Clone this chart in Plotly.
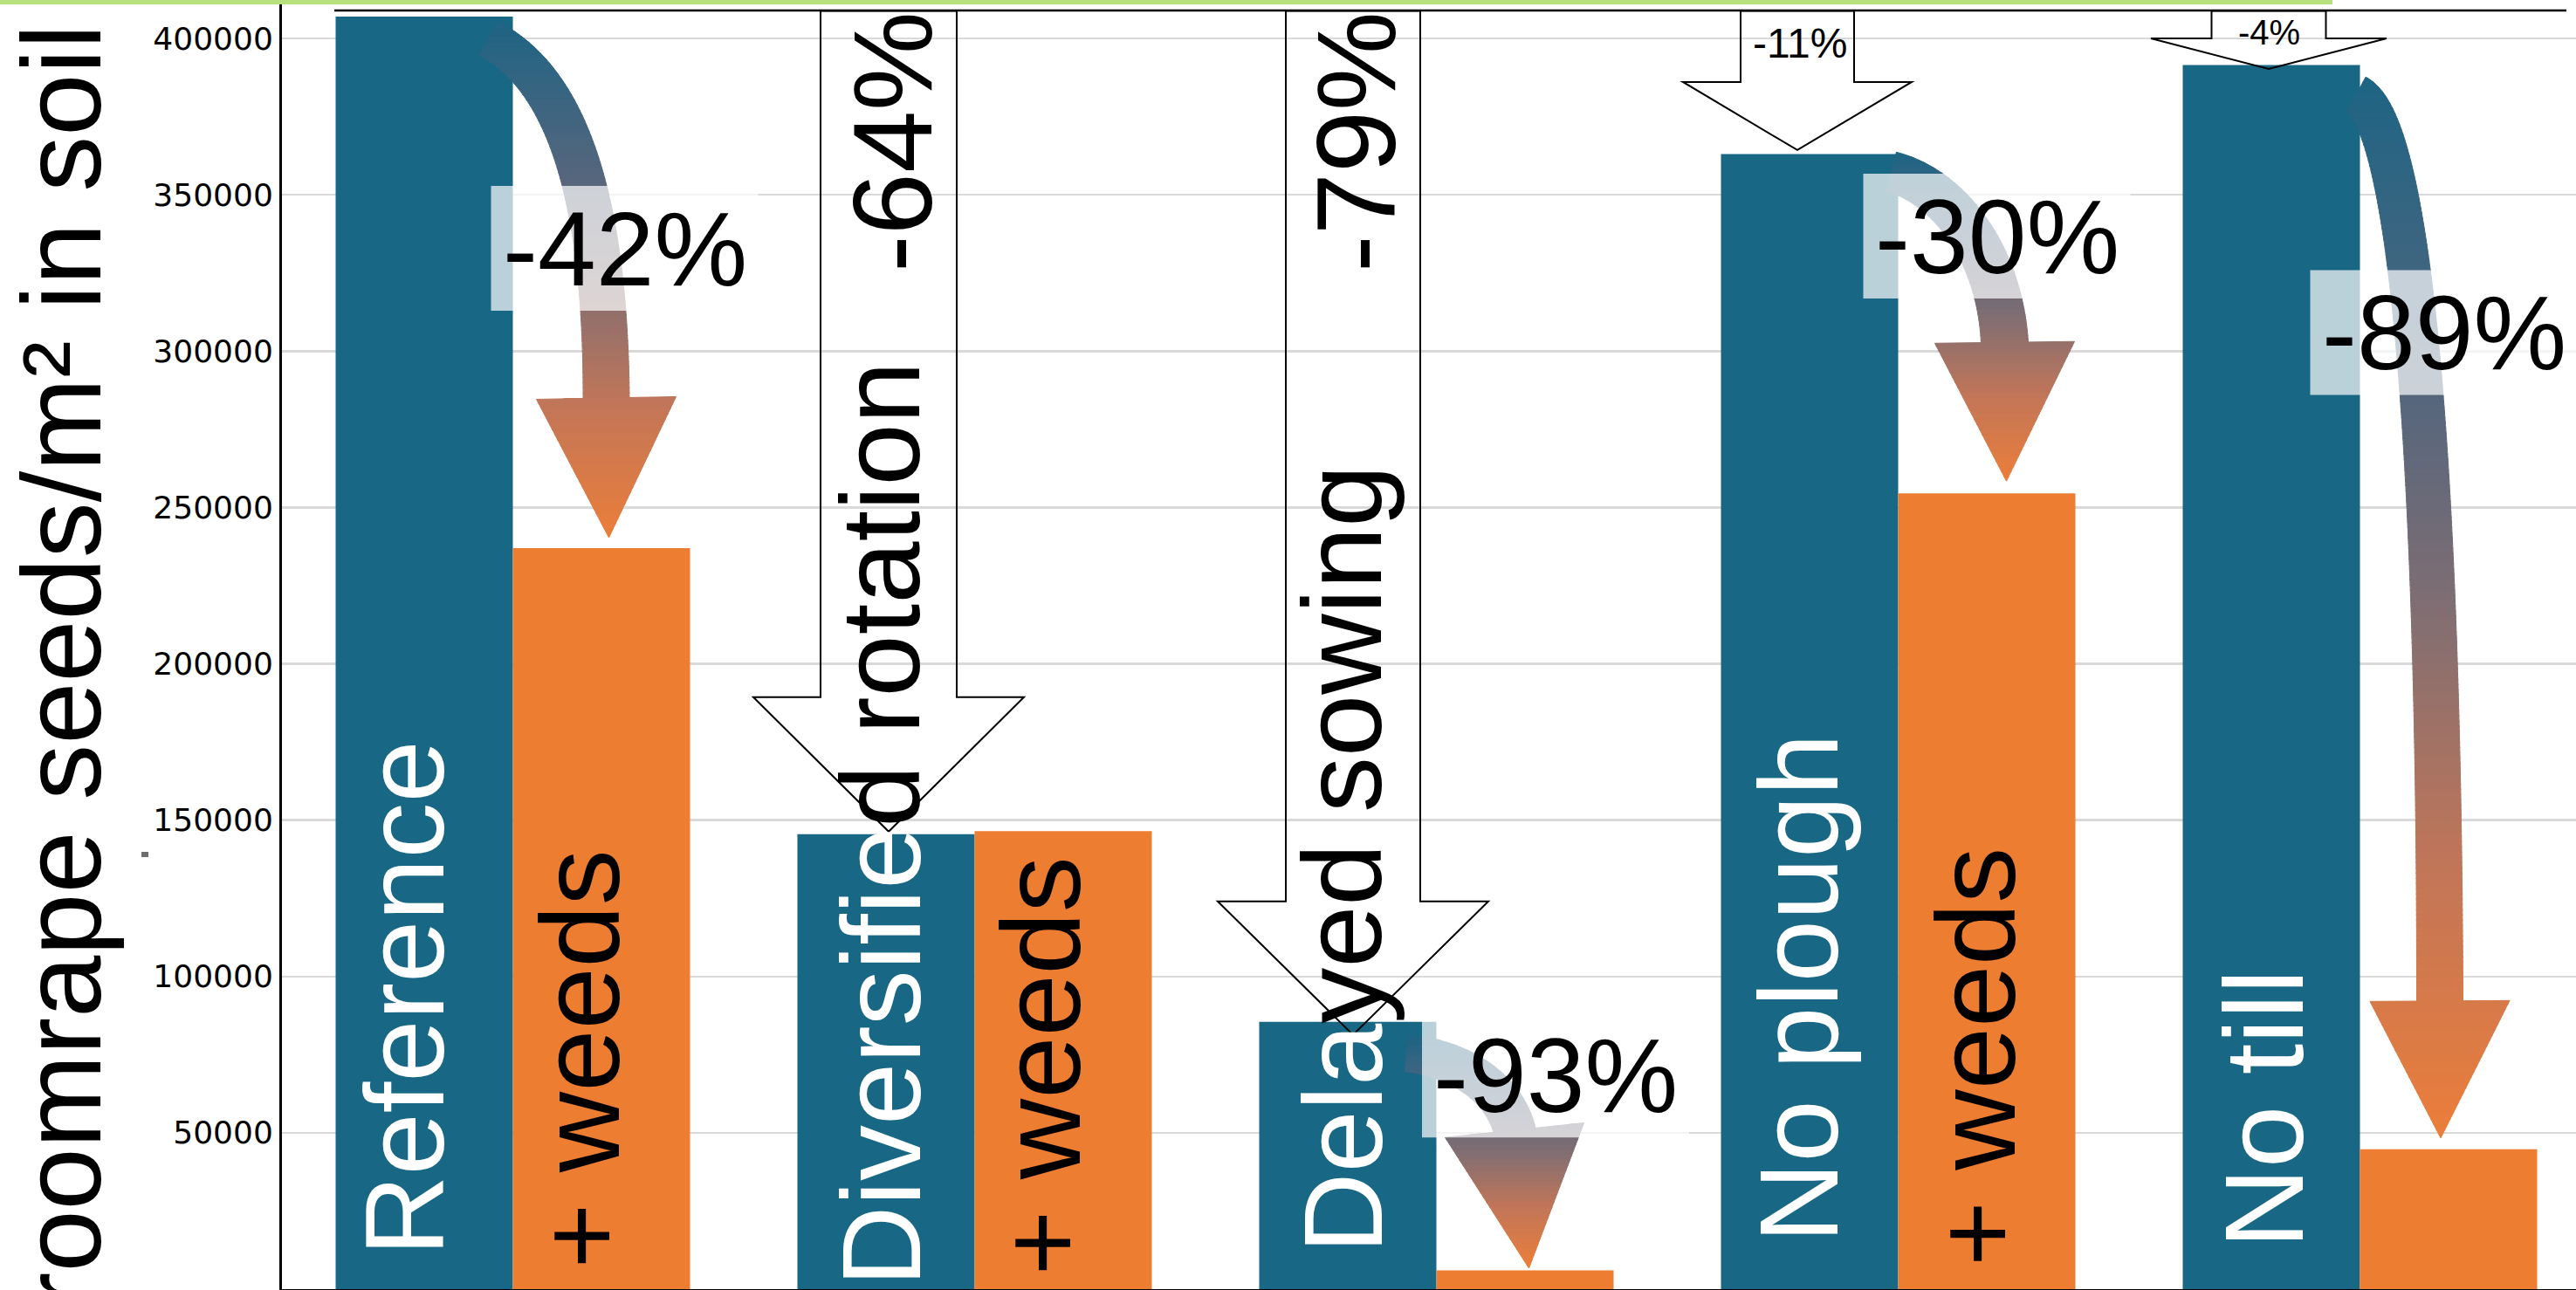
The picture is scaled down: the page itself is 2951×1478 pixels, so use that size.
import numpy as np
import plotly.graph_objects as go

# ---------------- data ----------------
categories = ["Reference", "Diversified rotation", "Delayed sowing", "No plough", "No till"]
practice_values = [407000, 145500, 85500, 363000, 391500]      # practice alone (blue)
weeds_values = [237000, 146500, 6000, 254500, 44700]           # practice + weeds (orange)
weeds_labels = ["+ weeds", "+ weeds", "", "+ weeds", ""]
weeds_change = ["-42%", "", "-93%", "-30%", "-89%"]            # curved arrows
practice_change = ["", "-64%", "-79%", "-11%", "-4%"]         # outlined arrows vs reference
tick_values = [0, 50000, 100000, 150000, 200000, 250000, 300000, 350000, 400000]
tick_labels = [str(v) for v in tick_values]
y_title = "Broomrape seeds/m\u00b2 in soil"

# ---------------- layout constants ----------------
W, H = 2951, 1478
PL, PT, PB = 323, 0, 1477
BAND = 529.0
Y400_PX = 44.0
XMIN = -0.5
XMAX = XMIN + (W - PL) / BAND
YMAX = 400000 * (PB - PT) / (PB - Y400_PX)
BAR_W = 0.38375

BLUE = "#186784"
ORANGE = "#ED7D31"
GRID = "#D9D9D9"
FONT = "Liberation Sans, Arial, Helvetica, sans-serif"
TICK_FONT = "DejaVu Sans, Verdana, sans-serif"
LABEL_SIZE = 128
PCT_SIZE = 120

def xpx(x): return PL + (x - XMIN) * BAND
def ypx(y): return PB - y * (PB - PT) / YMAX
def xd(px): return XMIN + (px - PL) / BAND
def yd(py): return (PB - py) * YMAX / (PB - PT)
def xp(px): return (px - PL) / (W - PL)
def yp(py): return (PB - py) / (PB - PT)

idx = list(range(len(categories)))
blue_center = [xpx(i - BAR_W / 2) for i in idx]
blue_right = [xpx(i) for i in idx]
orange_center = [xpx(i + BAR_W / 2) for i in idx]
blue_top = [ypx(v) for v in practice_values]
orange_top = [ypx(v) for v in weeds_values]

fig = go.Figure()
fig.add_trace(go.Bar(x=idx, y=practice_values, width=BAR_W, offset=-BAR_W,
                     marker=dict(color=BLUE, line=dict(width=0)), hoverinfo="skip"))
fig.add_trace(go.Bar(x=idx, y=weeds_values, width=BAR_W, offset=0,
                     marker=dict(color=ORANGE, line=dict(width=0)), hoverinfo="skip"))

shapes = []
annotations = []

# ---------------- gradient curved arrows ----------------
GRAD = [(0.0, (30, 100, 132)), (0.3, (85, 102, 125)), (0.5, (128, 110, 115)),
        (0.75, (195, 118, 88)), (1.0, (235, 126, 58))]

def grad_color(t):
    t = min(max(t, 0.0), 1.0)
    for (t0, c0), (t1, c1) in zip(GRAD[:-1], GRAD[1:]):
        if t <= t1:
            f = (t - t0) / (t1 - t0)
            c = [round(a + (b - a) * f) for a, b in zip(c0, c1)]
            return "rgb(%d,%d,%d)" % tuple(c)
    return "rgb(%d,%d,%d)" % GRAD[-1][1]

def clip_y(poly, yc, keep_greater):
    out = []
    n = len(poly)
    for k in range(n):
        cur, prev = poly[k], poly[k - 1]
        cin = cur[1] >= yc if keep_greater else cur[1] <= yc
        pin = prev[1] >= yc if keep_greater else prev[1] <= yc
        if cin:
            if not pin:
                t = (yc - prev[1]) / (cur[1] - prev[1])
                out.append((prev[0] + t * (cur[0] - prev[0]), yc))
            out.append(cur)
        elif pin:
            t = (yc - prev[1]) / (cur[1] - prev[1])
            out.append((prev[0] + t * (cur[0] - prev[0]), yc))
    return out

def path_of(poly):
    return "M " + " L ".join("%.5f,%.2f" % (xd(x), yd(y)) for x, y in poly) + " Z"

# offsets in pixels: tail rel. blue bar top-right corner, tip rel. orange bar top-centre
CURVED = {
    0: dict(tail=(-28, 25), c1=(79, 41), c2=(-1, -256), tip=(8.5, -12), hdir=(3, 160), hl=160, hh=80, w=(44, 53), box=(128, 265.6)),
    2: dict(tail=(-34, 36), c1=(52, 5), c2=(-14.5, -55), tip=(4.5, -2.5), hdir=(16.5, 158), hl=159, hh=80, w=(42, 48), box=(136.5, 61)),
    3: dict(tail=(-8, 20), c1=(67, 18), c2=(-6, -102), tip=(22.5, -14), hdir=(2, 159), hl=159, hh=80, w=(46, 54), box=(113, 94)),
    4: dict(tail=(-4, 33.6), c1=(60, 32), c2=(-1, -647), tip=(-9, -13), hdir=(1, 157), hl=157, hh=80, w=(45, 53), box=(96, 306.6)),
}

boxes = []
for i, spec in CURVED.items():
    if not weeds_change[i]:
        continue
    P0 = np.array([blue_right[i] + spec["tail"][0], blue_top[i] + spec["tail"][1]])
    tip = np.array([orange_center[i] + spec["tip"][0], orange_top[i] + spec["tip"][1]])
    u = np.array(spec["hdir"], float); u /= np.linalg.norm(u)
    P3 = tip - u * spec["hl"]
    P1 = P0 + np.array(spec["c1"])
    P2 = P3 + np.array(spec["c2"])
    t = np.linspace(0, 1, 80)[:, None]
    pts = (1 - t) ** 3 * P0 + 3 * (1 - t) ** 2 * t * P1 + 3 * (1 - t) * t ** 2 * P2 + t ** 3 * P3
    der = 3 * (1 - t) ** 2 * (P1 - P0) + 6 * (1 - t) * t * (P2 - P1) + 3 * t ** 2 * (P3 - P2)
    der /= np.linalg.norm(der, axis=1)[:, None]
    nrm = np.stack([-der[:, 1], der[:, 0]], axis=1)
    wid = (spec["w"][0] + (spec["w"][1] - spec["w"][0]) * t[:, 0])[:, None] / 2
    pts_ext = pts.copy()
    pts_ext[-1] = pts[-1] + der[-1] * 3
    left = pts_ext + nrm * wid
    right = pts_ext - nrm * wid
    shaft = [tuple(p) for p in left] + [tuple(p) for p in right[::-1]]
    hn = np.array([-u[1], u[0]])
    head = [tuple(P3 + hn * spec["hh"]), tuple(tip), tuple(P3 - hn * spec["hh"])]
    ytop = min(p[1] for p in shaft + head)
    ybot = tip[1]
    step = 6.0
    y0 = ytop
    while y0 < ybot:
        y1 = min(y0 + step, ybot)
        col = grad_color(((y0 + y1) / 2 - ytop) / (ybot - ytop))
        for poly in (shaft, head):
            cp = clip_y(clip_y(poly, y0 - 0.5, True), y1 + 0.5, False)
            if len(cp) >= 3:
                shapes.append(dict(type="path", xref="x", yref="y", path=path_of(cp),
                                   fillcolor=col, line=dict(color=col, width=1), layer="above"))
        y0 = y1
    bx = blue_right[i] + spec["box"][0]
    by = blue_top[i] + spec["box"][1]
    boxes.append((bx, by, weeds_change[i]))

# ---------------- outlined practice arrows ----------------
arrow_top = blue_top[0] - 6.5
OUTLINE = {
    1: dict(dx=3, sw=78, hw=155, hl=154, tip=-3, txt=dict(rot=True, size=128, dx=5)),
    2: dict(dx=6, sw=77, hw=155, hl=153, tip=15, txt=dict(rot=True, size=128, dx=4)),
    3: dict(dx=-14, sw=65, hw=131, hl=78, tip=-4.6, txt=dict(rot=False, size=48, dx=4, dy=36.6)),
    4: dict(dx=-3, sw=65.5, hw=135, hl=35, tip=4.6, txt=dict(rot=False, size=40, dx=0.5, dy=24.6)),
}
for i, s in OUTLINE.items():
    cx = blue_center[i] + s["dx"]
    tip_y = blue_top[i] + s["tip"]
    hb = tip_y - s["hl"]
    poly = [(cx - s["sw"], arrow_top), (cx + s["sw"], arrow_top), (cx + s["sw"], hb),
            (cx + s["hw"], hb), (cx, tip_y), (cx - s["hw"], hb), (cx - s["sw"], hb)]
    shapes.append(dict(type="path", xref="x", yref="y", path=path_of(poly),
                       fillcolor="rgba(0,0,0,0)", line=dict(color="black", width=2), layer="above"))
    tx = s["txt"]
    if tx["rot"]:
        annotations.append(dict(text=practice_change[i], xref="paper", yref="paper",
                                x=xp(cx + tx["dx"]), y=yp(arrow_top + 300), xanchor="center", yanchor="bottom",
                                textangle=-90, showarrow=False, borderpad=0,
                                font=dict(family=FONT, size=tx["size"], color="black")))
    else:
        annotations.append(dict(text=practice_change[i], xref="paper", yref="paper",
                                x=xp(cx + tx["dx"]), y=yp(arrow_top + tx["dy"]), xanchor="center", yanchor="middle",
                                showarrow=False, borderpad=0,
                                font=dict(family=FONT, size=tx["size"], color="black")))

# ---------------- semi-transparent label boxes for the weed effect ----------------
for bx, by, txt in boxes:
    shapes.append(dict(type="rect", xref="paper", yref="paper",
                       x0=xp(bx - 153), x1=xp(bx + 153), y0=yp(by + 71.5), y1=yp(by - 71.5),
                       fillcolor="rgba(255,255,255,0.7)", line=dict(width=0), layer="above"))
    annotations.append(dict(text=txt, xref="paper", yref="paper", x=xp(bx), y=yp(by),
                            xanchor="center", yanchor="middle", showarrow=False, borderpad=0,
                            font=dict(family=FONT, size=PCT_SIZE, color="black")))

# ---------------- rotated bar labels ----------------
ARIAL_W = {"D": .722, "i": .222, "v": .5, "e": .556, "r": .333, "s": .5, "f": .278,
           "l": .222, "a": .556, "d": .556, " ": .278}
blue_dx = [-22.5, -6, -6, -13, -8.5]
blue_start = [1440, 1475, 1437, 1425, 1431]
blue_split = [None, 10, 4, None, None]
weeds_dx = [-25.5, -26.5, 0, -13, 0]
weeds_start = [1455, 1463, 0, 1452, 0]

def rot_label(text, px, py_start, color):
    annotations.append(dict(text=text, xref="paper", yref="paper", x=xp(px), y=yp(py_start),
                            xanchor="center", yanchor="bottom", textangle=-90, showarrow=False,
                            borderpad=0, font=dict(family=FONT, size=LABEL_SIZE, color=color)))

for i, lab in enumerate(categories):
    px = blue_center[i] + blue_dx[i]
    sp = blue_split[i]
    if sp is None:
        rot_label(lab, px, blue_start[i], "white")
    else:
        first, second = lab[:sp], lab[sp:]
        rot_label(first, px, blue_start[i], "white")
        wlen = sum(ARIAL_W[c] for c in first) * LABEL_SIZE
        rot_label(second, px, blue_start[i] - wlen, "black")
    if weeds_labels[i]:
        rot_label(weeds_labels[i], orange_center[i] + weeds_dx[i], weeds_start[i], "black")

# ---------------- y-axis title (cut off at the bottom like the original) ----------------
annotations.append(dict(text=y_title, xref="paper", yref="paper", x=xp(115 - 44.4), y=yp(27),
                        xanchor="center", yanchor="top", textangle=-90, showarrow=False, borderpad=0,
                        font=dict(family=FONT, size=128, color="black")))

# ---------------- decorations ----------------
shapes.append(dict(type="rect", xref="paper", yref="paper", x0=xp(0), x1=xp(2672), y0=yp(5), y1=yp(0),
                   fillcolor="#B5E07B", line=dict(width=0), layer="above"))
shapes.append(dict(type="line", xref="paper", yref="paper", x0=xp(383), x1=xp(2940), y0=yp(12), y1=yp(12),
                   line=dict(color="black", width=2.5), layer="above"))
shapes.append(dict(type="rect", xref="paper", yref="paper", x0=xp(162), x1=xp(170), y0=yp(982), y1=yp(976),
                   fillcolor="#6E6E6E", line=dict(width=0), layer="above"))

fig.update_layout(
    width=W, height=H, autosize=False,
    margin=dict(l=PL, r=0, t=PT, b=H - PB, pad=0),
    plot_bgcolor="white", paper_bgcolor="white",
    showlegend=False, barmode="overlay",
    xaxis=dict(range=[XMIN, XMAX], showticklabels=False, showgrid=False, zeroline=False,
               showline=True, linecolor="black", linewidth=2, ticks="", fixedrange=True),
    yaxis=dict(range=[0, YMAX], tickvals=tick_values, ticktext=tick_labels,
               showgrid=True, gridcolor=GRID, gridwidth=2.5, zeroline=False,
               showline=True, linecolor="black", linewidth=3, ticks="",
               tickfont=dict(family=TICK_FONT, size=36, color="black"), fixedrange=True),
    shapes=shapes, annotations=annotations,
)

fig.write_html("out.html", config={"displayModeBar": False, "staticPlot": True},
               post_script="document.body.style.margin='0px';document.body.style.padding='0px';"
                           "document.body.style.overflow='hidden';")
